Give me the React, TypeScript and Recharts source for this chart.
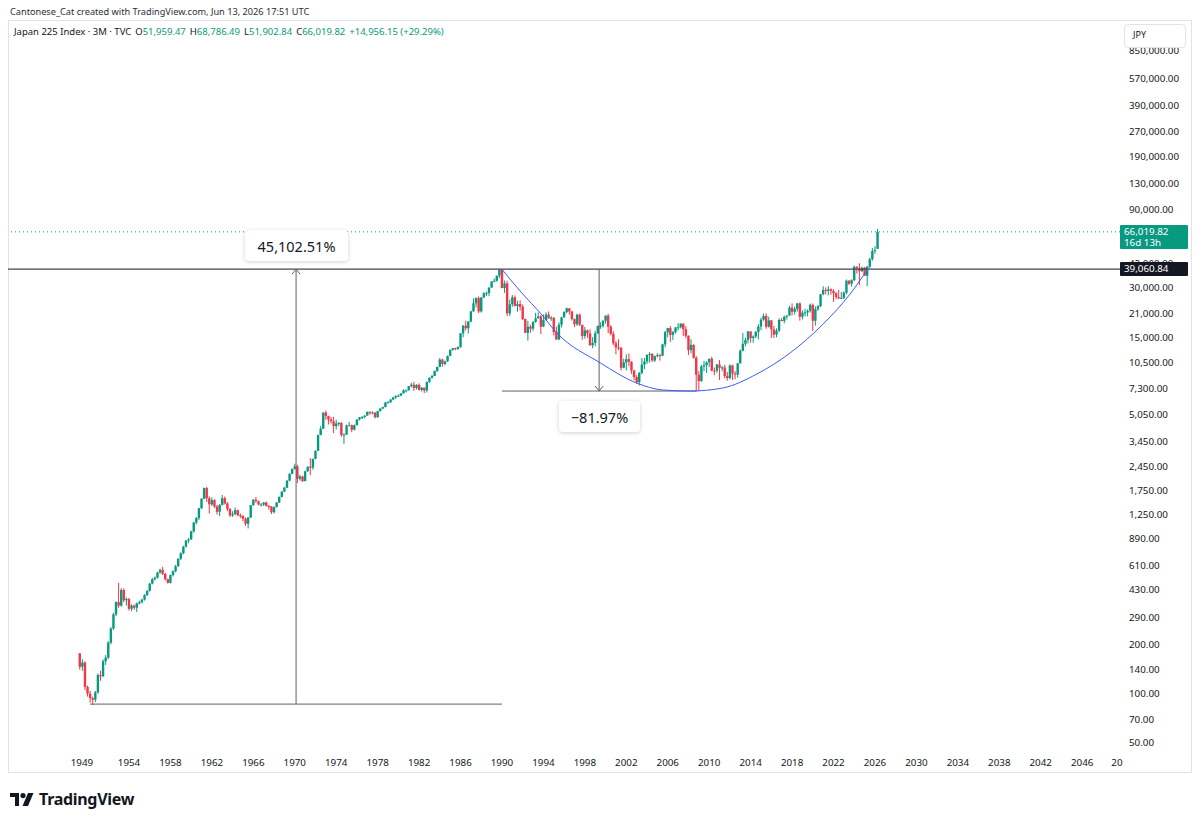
import React from 'react';
import { ComposedChart, Bar, Line, XAxis, YAxis, ReferenceLine } from 'recharts';

const UP = '#089981';
const DOWN = '#F23645';
const FONT = "'Noto Sans', 'DejaVu Sans', sans-serif";

// quarterly bars, first one is 1949 Q2
const FIRST_QUARTER = 1949.25;
const FIRST_OPEN = 176.21;
const LAST_OPEN = 51959.47;

const closes = [
  146, 155, 109.9, // 1949
  100, 94, 92, 101.9, // 1950
  130, 128, 158, 166,
  205, 250, 305, 362.6,
  345, 430, 372, 378,
  330, 345, 335, 356,
  362, 375, 400, 425, // 1955
  470, 500, 510, 549,
  570, 540, 500, 475,
  530, 560, 600, 666.5,
  720, 790, 860, 874.9,
  980, 1110, 1180, 1356.7, // 1960
  1550, 1800, 1560, 1432.6,
  1520, 1390, 1290, 1420,
  1560, 1450, 1340, 1225.8,
  1250, 1320, 1230, 1216.6,
  1170, 1090, 1190, 1417.8, // 1965
  1530, 1500, 1430, 1430.1,
  1470, 1400, 1390, 1283.5,
  1380, 1470, 1590, 1714,
  1810, 2000, 2200, 2359,
  2440, 2050, 2120, 1987, // 1970
  2280, 2430, 2400, 2713.7,
  3040, 3800, 4150, 5207.9,
  4950, 4720, 4600, 4306.8,
  4460, 4500, 3800, 3817,
  4340, 4360, 4090, 4359, // 1975
  4720, 4870, 4890, 4990,
  5250, 5170, 5200, 4866,
  5310, 5510, 5620, 6001.9,
  6020, 6250, 6450, 6569.5,
  6600, 6820, 7110, 7116, // 1980
  7550, 7700, 7350, 7681.8,
  7150, 7380, 7100, 8016.7,
  8490, 8700, 9350, 9893.8,
  10960, 10300, 10700, 11542.6,
  12580, 12880, 12700, 13113.3, // 1985
  15860, 17650, 17030, 18701.3,
  21570, 24180, 26010, 21564,
  26260, 27770, 27920, 30159,
  32840, 33180, 35640, 38915.9,
  29980, 31940, 20983, 23849, // 1990
  26292, 23291, 23916, 22984,
  19346, 15951, 17399, 16925,
  18591, 19590, 20106, 17417,
  19112, 20644, 19564, 19723,
  16140, 14517, 17913, 19868, // 1995
  21407, 22530, 21556, 19361,
  18003, 20604, 17888, 15258,
  16527, 15830, 13406, 13842,
  15837, 17530, 17605, 18934,
  20337, 17411, 15747, 13786, // 2000
  12999, 12969, 9775, 10543,
  11025, 10622, 9383, 8579,
  7973, 9083, 10219, 10677,
  11715, 11858, 10824, 11489,
  11669, 11584, 13574, 16111, // 2005
  17060, 15506, 16128, 17226,
  17288, 18138, 16786, 15308,
  12526, 13481, 11260, 8860,
  8110, 9958, 10133, 10546,
  11090, 9383, 9369, 10229, // 2010
  9755, 9816, 8700, 8455,
  10084, 9007, 8870, 10395,
  12398, 13677, 14456, 16291,
  14828, 15162, 16174, 17451,
  19207, 20236, 17388, 19034, // 2015
  16759, 15576, 16450, 19114,
  18909, 20033, 20356, 22765,
  21454, 22305, 24120, 20015,
  21206, 21276, 21756, 23657,
  18917, 22288, 23185, 27444, // 2020
  29179, 28792, 29453, 28792,
  27821, 26393, 25937, 26095,
  28041, 33189, 31858, 33464,
  40369, 39583, 37920, 39895,
  35617, 40487, 44933, 50339, // 2025
  51063.67, 66019.82,
];

const highs = [
  177, 162, 158,
  112, 104, 96, 104,
  133, 138, 162, 172,
  210, 255, 312, 366,
  474.4, 440, 440, 388,
  385, 352, 350, 360,
  370, 380, 405, 428,
  475, 510, 520, 555,
  580, 595, 545, 505,
  535, 565, 610, 670,
  730, 800, 870, 890,
  990, 1120, 1200, 1360,
  1560, 1810, 1829.7, 1600,
  1580, 1540, 1420, 1440,
  1634, 1600, 1480, 1360,
  1300, 1369, 1330, 1260,
  1230, 1190, 1200, 1420,
  1540, 1588, 1510, 1460,
  1480, 1490, 1420, 1400,
  1390, 1480, 1600, 1720,
  1830, 2010, 2220, 2370,
  2534, 2500, 2170, 2140,
  2300, 2440, 2740, 2720,
  3060, 3810, 4300, 5210,
  5359.7, 4980, 4900, 4900,
  4700, 4550, 4550, 3900,
  4400, 4560, 4400, 4400,
  4730, 4890, 4950, 5000,
  5290, 5300, 5290, 5230,
  5320, 5520, 5650, 6010,
  6110, 6290, 6470, 6640,
  6720, 6840, 7220, 7190,
  7560, 7900, 8020, 7750,
  7850, 7450, 7400, 8030,
  8520, 8850, 9380, 9900,
  11190, 11100, 10800, 11600,
  12600, 12900, 12950, 13150,
  15900, 17800, 18940, 18820,
  21800, 25900, 26300, 26646,
  26300, 28300, 28500, 30200,
  32900, 34300, 35700, 38957.4,
  38950, 33300, 33200, 25500,
  27146, 27000, 25000, 25200,
  23800, 19500, 18900, 17900,
  18800, 21148, 21300, 20500,
  20677, 21300, 21552, 20200,
  19900, 17400, 18500, 20000,
  21600, 22750, 22600, 21700,
  19500, 20900, 20900, 17800,
  17350, 16700, 16800, 15000,
  16400, 17700, 18500, 19000,
  20400, 20833, 17800, 16300,
  14200, 14600, 13000, 11100,
  11800, 11979, 10700, 9500,
  8800, 9200, 11200, 11200,
  11800, 12164, 11990, 11600,
  11975, 11900, 13700, 16400,
  17100, 17563, 16400, 17300,
  18300, 18300, 18262, 17500,
  15400, 14600, 13600, 11500,
  9325, 10170, 10767, 10700,
  11100, 11408, 9800, 10300,
  10891, 10000, 10200, 9200,
  10255, 10200, 9300, 10433,
  12650, 15942, 14900, 16320,
  16300, 15400, 16378, 18030,
  19778, 20952, 20946, 20012,
  19100, 17613, 17000, 19592,
  19668, 20318, 20481, 23382,
  24129, 23050, 24306, 24448,
  21860, 22362, 22200, 24091,
  24115, 23178, 23559, 27602,
  30714, 30208, 30795, 29808,
  29388, 28338, 29222, 28383,
  28623, 33772, 33488, 33853,
  41087, 40697, 42426, 40398,
  40288, 40852, 45852, 52636,
  54000, 68786.49,
];

const lows = [
  140, 138, 105,
  96, 88, 85.25, 89,
  100, 120, 126, 150,
  163, 200, 245, 298,
  335, 340, 362, 345,
  322, 318, 325, 315,
  350, 355, 370, 395,
  420, 465, 490, 505,
  540, 530, 490, 470,
  470, 520, 550, 595,
  655, 710, 780, 830,
  870, 960, 1080, 1150,
  1340, 1540, 1480, 1258,
  1400, 1360, 1240, 1216,
  1410, 1430, 1300, 1200,
  1200, 1230, 1210, 1180,
  1130, 1060, 1020.5, 1180,
  1400, 1460, 1410, 1390,
  1400, 1390, 1330, 1250,
  1260, 1370, 1460, 1580,
  1700, 1800, 1980, 2190,
  2330, 1929, 2000, 1960,
  1980, 2260, 2160, 2330,
  2700, 3030, 3780, 4140,
  4700, 4400, 4460, 3900,
  4100, 4300, 3700, 3355,
  3800, 4300, 3950, 4050,
  4350, 4650, 4750, 4800,
  4980, 5050, 5080, 4800,
  4860, 5280, 5450, 5600,
  5900, 5960, 6180, 6300,
  6470, 6550, 6800, 6900,
  7100, 7420, 7050, 7200,
  7100, 7000, 6849, 6900,
  7900, 8400, 8700, 9200,
  9840, 9900, 10100, 10600,
  11500, 12400, 12500, 12600,
  12900, 15000, 16500, 15820,
  18500, 21500, 22800, 21036,
  21200, 26000, 26800, 26700,
  30100, 32500, 32800, 34500,
  29800, 28000, 20221, 20200,
  23000, 23100, 21456, 21800,
  19100, 15900, 14309, 16000,
  16400, 18400, 19500, 15671,
  17300, 19000, 19500, 18900,
  15381, 14500, 14485, 17200,
  19700, 21000, 20600, 19000,
  17300, 17600, 17600, 14488,
  14700, 14900, 13300, 12879,
  13200, 15700, 16900, 17200,
  18200, 15871, 15400, 13400,
  11800, 12500, 9382, 9700,
  9400, 10000, 8969, 8200,
  7800, 7608, 8900, 9600,
  10300, 10500, 10600, 10600,
  11300, 10800, 11500, 13000,
  15000, 14045, 14400, 15800,
  16500, 17000, 15262, 14800,
  11700, 12000, 11100, 7000,
  7021, 8000, 9300, 9076,
  9867, 9300, 8796, 9100,
  8227, 9300, 8400, 8135,
  8300, 8238, 8300, 8500,
  10380, 12300, 13200, 13748,
  13885, 13885, 14800, 14529,
  16592, 18900, 16901, 17200,
  14866, 14864, 15000, 16111,
  18800, 18224, 19239, 20300,
  20347, 20617, 21462, 18949,
  19241, 20110, 20110, 21200,
  16358, 17646, 21710, 22948,
  27055, 27385, 27013, 27293,
  24681, 25520, 25621, 25661,
  25661, 27427, 31275, 30538,
  33090, 36733, 31156, 37651,
  35500, 30792, 39500, 44000,
  48500, 51902.84,
];

// blue curve drawn on the chart
const arcYears = [1990.0, 1992.0, 1993.7, 1995.3, 1999.5, 2003.0, 2005.5, 2008.2, 2011.3, 2014.6, 2017.8, 2021.0, 2023.6, 2025.3];
const arcValues = [38958, 27550, 21090, 15930, 10450, 7880, 7150, 7043, 7350, 8945, 12020, 18070, 27550, 39060];

const priceTicks = [50, 70, 100, 140, 200, 290, 430, 610, 890, 1250, 1750, 2450, 3450, 5050, 7300, 10500, 15000, 21000, 30000, 42000, 90000, 130000, 190000, 270000, 390000, 570000, 850000];
const yearTicks = [1949.46, 1954, 1958, 1962, 1966, 1970, 1974, 1978, 1982, 1986, 1990, 1994, 1998, 2002, 2006, 2010, 2014, 2018, 2022, 2026, 2030, 2034, 2038, 2042, 2046, 2049.35];

const RESISTANCE = 39060.84;
const LAST_PRICE = 66019.82;
// price range tools
const rangeUp = { from: 1950.25, to: 1990.0, low: 86.41, high: RESISTANCE, text: '45,102.51%' };
const rangeDown = { from: 1990.0, to: 2008.75, low: 7042.7, high: RESISTANCE, text: '\u221281.97%' };

const candles = closes.map((c, i) => {
  const open = i === 0 ? FIRST_OPEN : i === closes.length - 1 ? LAST_OPEN : closes[i - 1];
  return { t: FIRST_QUARTER + i * 0.25, open, close: c, high: highs[i], low: lows[i], range: [lows[i], highs[i]] };
});
const arcData = arcYears.map((t, i) => ({ t, v: arcValues[i] }));

const fmt = (n: number) => n.toLocaleString('en-US', { minimumFractionDigits: 2, maximumFractionDigits: 2 });

const Candle = (props: any) => {
  const { x, y, width, height, payload } = props;
  if (x == null || y == null || !payload) return null;
  const cx = x + width / 2;
  const hi = Math.log(payload.high);
  const lo = Math.log(payload.low);
  const toY = (v: number) => (hi === lo ? y : y + ((hi - Math.log(v)) / (hi - lo)) * height);
  const yo = toY(payload.open);
  const yc = toY(payload.close);
  const color = payload.close >= payload.open ? UP : DOWN;
  return (
    <g>
      <line x1={cx} x2={cx} y1={y} y2={y + height} stroke={color} strokeWidth={1} />
      <rect x={cx - 1.2} y={Math.min(yo, yc)} width={2.4} height={Math.max(Math.abs(yc - yo), 1)} fill={color} />
    </g>
  );
};

const arrowLine = (pointUp: boolean) => (p: any) => {
  const { x1, y1, x2, y2 } = p;
  const tip = pointUp ? Math.min(y1, y2) : Math.max(y1, y2);
  const d = pointUp
    ? `M${x1 - 4},${tip + 5} L${x1},${tip} L${x1 + 4},${tip + 5}`
    : `M${x1 - 4},${tip - 5} L${x1},${tip} L${x1 + 4},${tip - 5}`;
  return (
    <g>
      <line x1={x1} y1={y1} x2={x2} y2={y2} stroke="#5d606b" strokeWidth={1} />
      <path d={d} fill="none" stroke="#5d606b" strokeWidth={1} />
    </g>
  );
};

const boxStyle: React.CSSProperties = {
  position: 'absolute',
  background: '#fff',
  borderRadius: 4,
  boxShadow: '0 1px 4px rgba(0,0,0,0.18)',
  fontSize: 14.5,
  color: '#131722',
  display: 'flex',
  alignItems: 'center',
  justifyContent: 'center',
};

const gap = { marginLeft: 4 };

export default function App() {
  const last = candles[candles.length - 1];
  const prev = candles[candles.length - 2];
  const chg = last.close - prev.close;
  const pct = (chg / prev.close) * 100;

  return (
    <div style={{ position: 'absolute', left: 0, top: 0, width: 1200, height: 821, background: '#fff', fontFamily: FONT, overflow: 'hidden' }}>
      <div style={{ position: 'absolute', left: 10, top: 5, fontSize: 9.2, color: '#2a2e39' }}>
        Cantonese_Cat created with TradingView.com, Jun 13, 2026 17:51 UTC
      </div>
      <div style={{ position: 'absolute', left: 8, top: 20, width: 1182, height: 751, border: '1px solid #e0e3eb' }} />

      <div style={{ position: 'absolute', left: 8, top: 20 }}>
        <ComposedChart width={1184} height={753} data={candles} margin={{ top: 0, right: 0, bottom: 0, left: 0 }}>
          <XAxis
            dataKey="t"
            type="number"
            domain={[1942.32, 2049.65]}
            allowDataOverflow
            ticks={yearTicks}
            interval={0}
            tickFormatter={(v: number) => (v < 1950 ? '1949' : v > 2048 ? '20' : String(v))}
            axisLine={false}
            tickLine={false}
            tickSize={0}
            tickMargin={7}
            height={21}
            tick={{ fontSize: 9.8, fill: '#131722', fontFamily: FONT }}
          />
          <YAxis
            orientation="right"
            scale="log"
            type="number"
            domain={[44.07, 1296800]}
            allowDataOverflow
            ticks={priceTicks}
            interval={0}
            tickFormatter={fmt}
            axisLine={false}
            tickLine={false}
            tickSize={0}
            tickMargin={9}
            width={72}
            tick={{ fontSize: 9.8, fill: '#131722', fontFamily: FONT, textAnchor: 'start' }}
          />
          <ReferenceLine y={LAST_PRICE} stroke={UP} strokeDasharray="1 3" strokeWidth={1} />
          <ReferenceLine y={RESISTANCE} stroke="#434651" strokeWidth={1.3} />
          <ReferenceLine
            segment={[{ x: rangeUp.from, y: rangeUp.low }, { x: rangeUp.to, y: rangeUp.low }]}
            stroke="#5d606b"
          />
          <ReferenceLine
            segment={[{ x: (rangeUp.from + rangeUp.to) / 2, y: rangeUp.low }, { x: (rangeUp.from + rangeUp.to) / 2, y: rangeUp.high }]}
            shape={arrowLine(true)}
          />
          <ReferenceLine
            segment={[{ x: rangeDown.from, y: rangeDown.low }, { x: rangeDown.to, y: rangeDown.low }]}
            stroke="#5d606b"
          />
          <ReferenceLine
            segment={[{ x: (rangeDown.from + rangeDown.to) / 2, y: rangeDown.high }, { x: (rangeDown.from + rangeDown.to) / 2, y: rangeDown.low }]}
            shape={arrowLine(false)}
          />
          <Bar dataKey="range" barSize={2} shape={<Candle />} isAnimationActive={false} />
          <Line data={arcData} dataKey="v" type="monotone" stroke="#3d5afe" strokeWidth={1} dot={false} isAnimationActive={false} />
        </ComposedChart>
      </div>

      <div style={{ position: 'absolute', left: 14, top: 25, fontSize: 9.5, color: '#131722', whiteSpace: 'nowrap' }}>
        <span>Japan 225 Index · 3M · TVC</span>
        <span style={gap}>O</span><span style={{ color: UP }}>{fmt(last.open)}</span>
        <span style={gap}>H</span><span style={{ color: UP }}>{fmt(last.high)}</span>
        <span style={gap}>L</span><span style={{ color: UP }}>{fmt(last.low)}</span>
        <span style={gap}>C</span><span style={{ color: UP }}>{fmt(last.close)}</span>
        <span style={{ ...gap, color: UP }}>+{fmt(chg)} (+{pct.toFixed(2)}%)</span>
      </div>

      <div style={{ ...boxStyle, left: 245, top: 230, width: 103, height: 31 }}>{rangeUp.text}</div>
      <div style={{ ...boxStyle, left: 559, top: 401, width: 81, height: 31 }}>{rangeDown.text}</div>

      <div style={{ position: 'absolute', left: 1124, top: 24, width: 62, height: 24, border: '1px solid #e0e3eb', borderRadius: 4, background: '#fff', fontSize: 9, color: '#131722', lineHeight: '20px', paddingLeft: 8, boxSizing: 'border-box' }}>
        JPY
      </div>
      <div style={{ position: 'absolute', left: 1120, top: 225, width: 68, height: 24, background: UP, color: '#fff', fontSize: 9.8, lineHeight: '11px', paddingLeft: 4, paddingTop: 1, boxSizing: 'border-box', borderRadius: 1 }}>
        <div>{fmt(LAST_PRICE)}</div>
        <div>16d 13h</div>
      </div>
      <div style={{ position: 'absolute', left: 1120, top: 262, width: 68, height: 14, background: '#131722', color: '#fff', fontSize: 9.8, lineHeight: '14px', paddingLeft: 4, boxSizing: 'border-box', borderRadius: 1 }}>
        {fmt(RESISTANCE)}
      </div>

      <div style={{ position: 'absolute', left: 10, top: 788, display: 'flex', alignItems: 'center', gap: 5 }}>
        <svg width={24} height={13} viewBox="0 0 24 13">
          <path d="M0 0 H9 V13 H5 V4 H0 Z" fill="#131722" />
          <circle cx={13} cy={2.6} r={2.6} fill="#131722" />
          <path d="M18 0 H23.5 L18 13 H12.5 Z" fill="#131722" />
        </svg>
        <span style={{ fontSize: 16, fontWeight: 700, color: '#131722', letterSpacing: -0.3 }}>TradingView</span>
      </div>
    </div>
  );
}
